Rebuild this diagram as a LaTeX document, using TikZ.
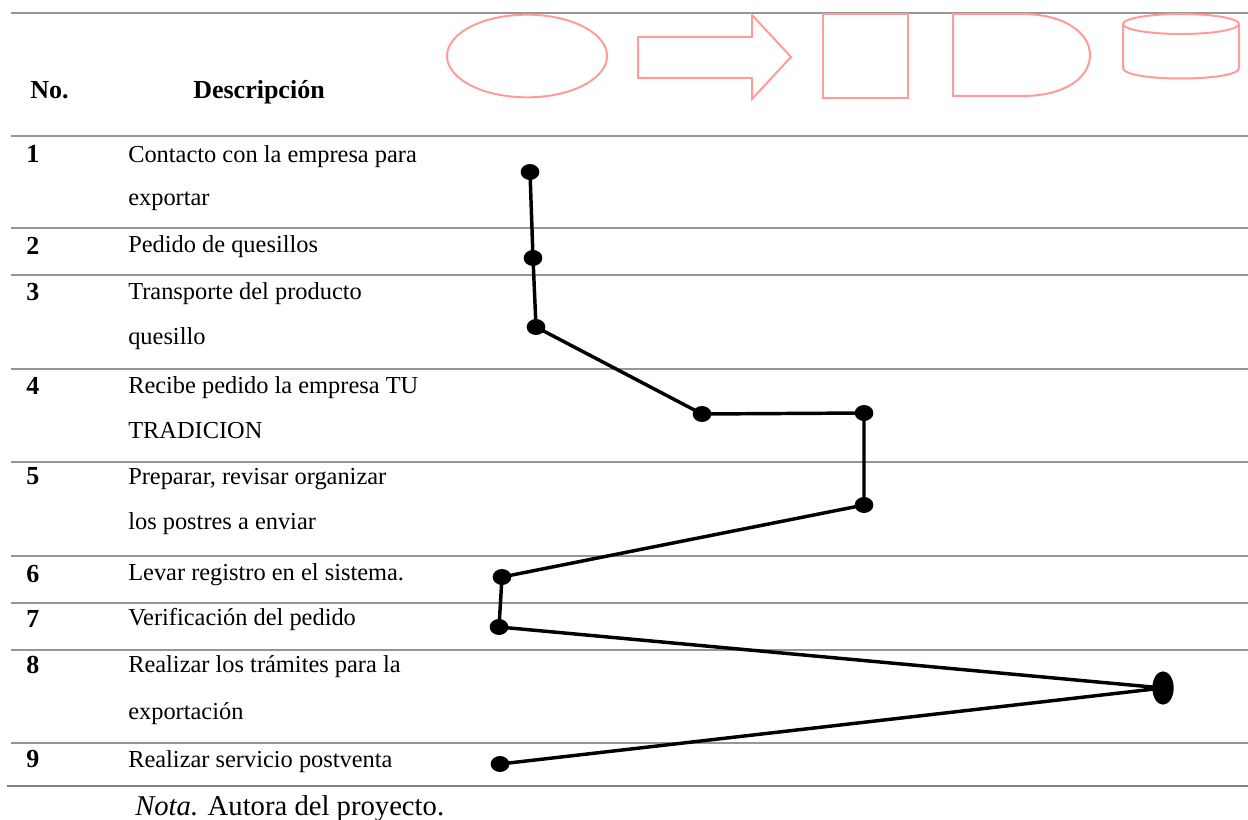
\documentclass[tikz,border=0pt]{standalone}
\usepackage{fontspec}
\setmainfont{Liberation Serif}
\usetikzlibrary{shapes.geometric}
\definecolor{rowgray}{RGB}{150,150,150}
\definecolor{shapepink}{RGB}{255,155,155}
\begin{document}
\begin{tikzpicture}[x=0.75pt,y=-0.75pt,
  rule/.style={draw=rowgray,line width=0.9pt},
  bottomrule/.style={draw=rowgray!85!black,line width=1.6pt},
  pinkline/.style={draw=shapepink,line width=1.5pt,line join=miter},
  txt/.style={anchor=base west,inner sep=0pt,font=\fontsize{18.3}{21}\selectfont},
  num/.style={anchor=base west,inner sep=0pt,font=\fontsize{19.5}{22}\selectfont\bfseries},
  dot/.style={ellipse,fill=black,inner sep=0pt,minimum width=14pt,minimum height=12pt},
  bigdot/.style={ellipse,fill=black,inner sep=0pt,minimum width=16pt,minimum height=25pt},
  conn/.style={draw=black,line width=2.6pt,line join=round}]
\useasboundingbox (0,0) rectangle (1248,820);
% table rules
\draw[rule] (11,13) -- (1248,13);
\foreach \yy in {136,228,275,369,462,556,603,650,743}{\draw[rule] (11,\yy) -- (1248,\yy);}
\draw[bottomrule] (7,786) -- (1248,786);
% header
\node[num] (hno) at (30,99) {No.};
\node[num,anchor=base] (hdesc) at (259,99) {Descripción};
% header symbols
\draw[pinkline] (527,56) ellipse [x radius=60pt, y radius=31pt];
\draw[pinkline] (638,37) -- (752,37) -- (752,15) -- (791,57) -- (752,99) -- (752,78) -- (638,78) -- cycle;
\draw[pinkline] (823,14) rectangle (908,98);
\draw[pinkline] (953,14) -- (1022,14) .. controls (1066,14) and (1090,34) .. (1090,55) .. controls (1090,77) and (1066,96) .. (1022,96) -- (953,96) -- cycle;
\draw[pinkline] (1181,24) ellipse [x radius=43.5pt, y radius=7.5pt];
\draw[pinkline] (1123,24) -- (1123,68) .. controls (1123,82) and (1239,82) .. (1239,68) -- (1239,24);
% rows
\node[num] (n1) at (26,162) {1};
\node[txt] (t1a) at (128,162) {Contacto con la empresa para};
\node[txt] (t1b) at (128,205) {exportar};
\node[num] (n2) at (26,254) {2};
\node[txt] (t2) at (128,252) {Pedido de quesillos};
\node[num] (n3) at (26,300) {3};
\node[txt] (t3a) at (128,299) {Transporte del producto};
\node[txt] (t3b) at (128,344) {quesillo};
\node[num] (n4) at (26,394) {4};
\node[txt] (t4a) at (128,393) {Recibe pedido la empresa TU};
\node[txt] (t4b) at (128,438) {TRADICION};
\node[num] (n5) at (26,484) {5};
\node[txt] (t5a) at (128,484) {Preparar, revisar organizar};
\node[txt] (t5b) at (128,529) {los postres a enviar};
\node[num] (n6) at (26,582) {6};
\node[txt] (t6) at (128,580) {Levar registro en el sistema.};
\node[num] (n7) at (26,627) {7};
\node[txt] (t7) at (128,625) {Verificación del pedido};
\node[num] (n8) at (26,673) {8};
\node[txt] (t8a) at (128,672) {Realizar los trámites para la};
\node[txt] (t8b) at (128,719) {exportación};
\node[num] (n9) at (26,767) {9};
\node[txt] (t9) at (128,767) {Realizar servicio postventa};
\node[anchor=base west,inner sep=0pt,font=\fontsize{21.5}{24}\selectfont] (nota) at (135,815) {\textit{Nota.} Autora del proyecto.};
% dots
\node[dot] (d1) at (530,172) {};
\node[dot] (d2) at (533,258) {};
\node[dot] (d3) at (536,327) {};
\node[dot] (d4) at (702,414) {};
\node[dot] (d5) at (864,413) {};
\node[dot] (d6) at (864,505) {};
\node[dot] (d7) at (502,577) {};
\node[dot] (d8) at (499,627) {};
\node[bigdot] (d9) at (1163,688) {};
\node[dot] (d10) at (500,764) {};
% connectors
\draw[conn] (d1.center) -- (d2.center) -- (d3.center) -- (d4.center) -- (d5.center) -- (d6.center) -- (d7.center) -- (d8.center) -- (d9.center) -- (d10.center);
\end{tikzpicture}
\end{document}
